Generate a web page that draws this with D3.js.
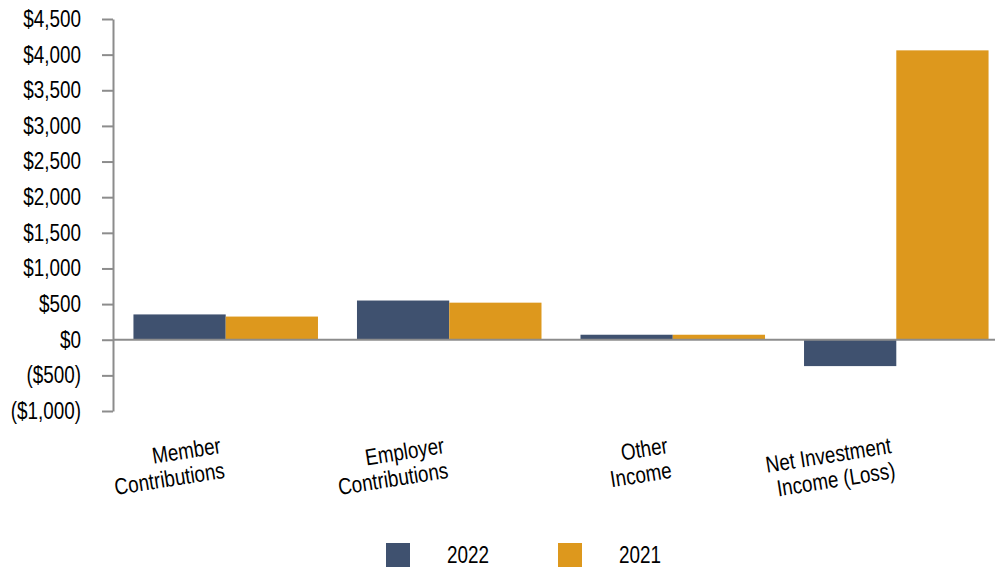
<!DOCTYPE html>
<html>
<head>
<meta charset="utf-8">
<script src="https://cdn.jsdelivr.net/npm/d3@7"></script>
<style>
  body { margin: 0; background: #fff; }
  svg { display: block; font-family: "Liberation Sans Narrow", "Arial Narrow", "Liberation Sans", sans-serif; }
</style>
</head>
<body>
<svg width="995" height="567"></svg>
<script>
const categories = [
  ['Member', 'Contributions'],
  ['Employer', 'Contributions'],
  ['Other', 'Income'],
  ['Net Investment', 'Income (Loss)']
]
const series = ['2022', '2021']
const values2022 = [355, 550, 70, -370]
const values2021 = [325, 520, 70, 4060]
const yTicks = [-1000, -500, 0, 500, 1000, 1500, 2000, 2500, 3000, 3500, 4000, 4500]

const colors = { '2022': '#3f516f', '2021': '#dd981d' }
const axisColor = '#8c8c8c'
const fontSize = 23

const svg = d3.select('svg')
const plotLeft = 113
const plotTop = 19
const plotBottom = 411

// no narrow face installed, so squeeze the regular one
const narrow = sel => sel.each(function() {
  const w = this.getComputedTextLength()
  d3.select(this).attr('textLength', w * 0.82).attr('lengthAdjust', 'spacingAndGlyphs')
})

const keys = categories.map(c => c.join(' '))
const xScale = d3.scaleBand()
                 .domain(keys)
                 .range([114, 1008])
                 .paddingInner(0.1745)
                 .paddingOuter(0.087)
const xInner = d3.scaleBand()
                 .domain(series)
                 .range([0, xScale.bandwidth()])
const yScale = d3.scaleLinear()
                 .domain([-1000, 4500])
                 .range([plotBottom, plotTop])

const fmt = d => d < 0 ? `($${d3.format(',')(-d)})` : `$${d3.format(',')(d)}`

// bars
const rows = keys.map((k, i) => ({ key: k, '2022': values2022[i], '2021': values2021[i] }))
svg.append('g')
   .selectAll('g')
   .data(rows)
   .join('g')
   .attr('transform', d => `translate(${xScale(d.key)},0)`)
   .selectAll('rect')
   .data(d => series.map(s => ({ s, v: d[s] })))
   .join('rect')
   .attr('x', d => xInner(d.s))
   .attr('width', xInner.bandwidth())
   .attr('y', d => yScale(Math.max(0, d.v)))
   .attr('height', d => Math.abs(yScale(d.v) - yScale(0)))
   .attr('fill', d => colors[d.s])

// y axis
const yAxis = d3.axisLeft(yScale)
                .tickValues(yTicks)
                .tickFormat(fmt)
                .tickSizeInner(11)
                .tickSizeOuter(0)
                .tickPadding(21)
const gy = svg.append('g')
              .attr('transform', `translate(${plotLeft},0)`)
              .call(yAxis)
gy.select('.domain').attr('stroke', axisColor).attr('stroke-width', 2)
gy.selectAll('.tick line').attr('stroke', axisColor).attr('stroke-width', 2)
gy.selectAll('.tick text')
  .attr('fill', '#000')
  .style('font-size', `${fontSize}px`)
  .style('font-family', 'inherit')
  .call(narrow)

// zero line
svg.append('line')
   .attr('x1', plotLeft)
   .attr('x2', 995)
   .attr('y1', yScale(0))
   .attr('y2', yScale(0))
   .attr('stroke', axisColor)
   .attr('stroke-width', 2)

// category labels
const labels = svg.append('g')
                  .selectAll('text')
                  .data(categories)
                  .join('text')
                  .attr('text-anchor', 'end')
                  .attr('transform', (d, i) => `translate(${xScale(keys[i]) + xScale.bandwidth() / 2 - 4},453)rotate(-9)`)
                  .style('font-size', `${fontSize}px`)
                  .attr('fill', '#000')
labels.selectAll('tspan')
      .data(d => d)
      .join('tspan')
      .attr('x', 0)
      .attr('dy', (d, i) => i === 0 ? 0 : 25)
      .text(d => d)
      .call(narrow)

// legend
const legend = svg.append('g')
const legendX = [386, 558]
series.forEach((s, i) => {
  legend.append('rect')
        .attr('x', legendX[i])
        .attr('y', 543)
        .attr('width', 24)
        .attr('height', 24)
        .attr('fill', colors[s])
  legend.append('text')
        .attr('x', legendX[i] + 61)
        .attr('y', 563)
        .style('font-size', `${fontSize}px`)
        .text(s)
        .call(narrow)
})
</script>
</body>
</html>
